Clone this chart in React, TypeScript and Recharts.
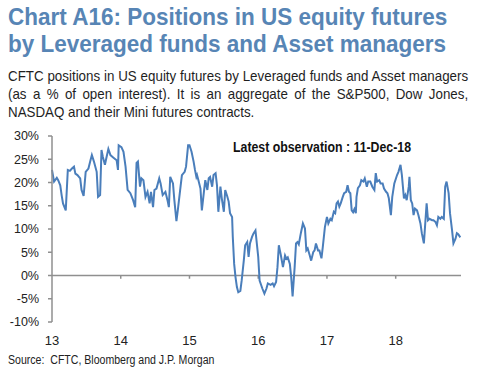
import React from 'react';
import { LineChart, Line, XAxis, YAxis, ReferenceLine } from 'recharts';

// observation time as decimal year, and net position as % of open interest
const obsTime = [
  2013.0, 2013.03, 2013.07, 2013.09, 2013.12, 2013.14, 2013.16, 2013.2, 2013.23, 2013.26,
  2013.29, 2013.32, 2013.34, 2013.37, 2013.41, 2013.43, 2013.46, 2013.49, 2013.53, 2013.56,
  2013.58, 2013.61, 2013.65, 2013.67, 2013.7, 2013.72, 2013.74, 2013.77, 2013.79, 2013.82,
  2013.85, 2013.89, 2013.94, 2013.96, 2013.97, 2014.01, 2014.04, 2014.07, 2014.1, 2014.14,
  2014.18, 2014.21, 2014.23, 2014.25, 2014.28, 2014.3, 2014.33, 2014.36, 2014.39, 2014.42,
  2014.44, 2014.47, 2014.49, 2014.52, 2014.56, 2014.58, 2014.61, 2014.65, 2014.68, 2014.7,
  2014.72, 2014.76, 2014.78, 2014.81, 2014.83, 2014.87, 2014.89, 2014.93, 2014.95, 2014.98,
  2015.0, 2015.03, 2015.06, 2015.08, 2015.1, 2015.11, 2015.13, 2015.16, 2015.18, 2015.21,
  2015.23, 2015.26, 2015.28, 2015.3, 2015.33, 2015.35, 2015.38, 2015.4, 2015.42, 2015.45,
  2015.47, 2015.5, 2015.52, 2015.55, 2015.57, 2015.59, 2015.62, 2015.63, 2015.65, 2015.67,
  2015.69, 2015.71, 2015.74, 2015.76, 2015.79, 2015.81, 2015.84, 2015.86, 2015.88, 2015.91,
  2015.93, 2015.96, 2016.0, 2016.02, 2016.06, 2016.09, 2016.12, 2016.14, 2016.18, 2016.21,
  2016.23, 2016.26, 2016.28, 2016.3, 2016.33, 2016.36, 2016.39, 2016.41, 2016.43, 2016.46,
  2016.48, 2016.5, 2016.53, 2016.55, 2016.57, 2016.59, 2016.62, 2016.65, 2016.68, 2016.7,
  2016.72, 2016.75, 2016.77, 2016.8, 2016.82, 2016.84, 2016.87, 2016.89, 2016.92, 2016.94,
  2016.97, 2017.0, 2017.02, 2017.05, 2017.07, 2017.1, 2017.12, 2017.14, 2017.16, 2017.18,
  2017.2, 2017.23, 2017.25, 2017.28, 2017.3, 2017.32, 2017.34, 2017.36, 2017.38, 2017.4,
  2017.42, 2017.43, 2017.45, 2017.48, 2017.5, 2017.53, 2017.55, 2017.58, 2017.6, 2017.63,
  2017.66, 2017.69, 2017.71, 2017.73, 2017.76, 2017.78, 2017.81, 2017.83, 2017.86, 2017.88,
  2017.9, 2017.93, 2017.95, 2017.98, 2018.02, 2018.04, 2018.07, 2018.09, 2018.12, 2018.14,
  2018.16, 2018.19, 2018.2, 2018.22, 2018.24, 2018.26, 2018.28, 2018.31, 2018.33, 2018.36,
  2018.38, 2018.41, 2018.43, 2018.45, 2018.47, 2018.49, 2018.53, 2018.55, 2018.58, 2018.6,
  2018.62, 2018.65, 2018.67, 2018.7, 2018.72, 2018.74, 2018.77, 2018.79, 2018.82, 2018.84,
  2018.87, 2018.89, 2018.91, 2018.94,
];

const netPct = [
  22.7, 20.2, 21.0, 20.5, 19.4, 17.3, 15.5, 14.0, 22.7, 22.5,
  23.0, 23.4, 21.9, 21.6, 20.9, 18.4, 17.1, 22.3, 23.0, 24.8,
  25.9, 24.5, 22.3, 16.9, 17.3, 27.0, 25.5, 23.8, 25.2, 27.2,
  25.9, 25.4, 24.8, 22.7, 28.0, 27.6, 26.6, 23.4, 18.4, 17.7,
  16.2, 14.7, 24.2, 24.5, 19.1, 20.9, 20.5, 16.9, 18.0, 15.5,
  18.0, 14.7, 18.4, 18.7, 20.9, 19.8, 17.3, 18.0, 16.2, 14.7,
  21.2, 19.8, 16.2, 11.7, 14.0, 19.1, 21.6, 22.3, 23.4, 28.0,
  28.0, 26.6, 24.5, 22.7, 21.2, 21.6, 20.5, 18.7, 14.0, 18.0,
  20.5, 18.4, 20.9, 21.2, 19.1, 21.6, 22.0, 19.4, 13.7, 19.1,
  16.6, 13.7, 18.4, 17.0, 15.9, 13.4, 12.6, 8.3, 2.5, -0.4,
  -2.5, -3.6, -3.3, -1.0, 3.2, 6.5, 7.2, 4.0, 6.9, 8.3,
  9.0, 9.7, 4.0, -1.1, -2.8, -3.9, -2.8, -1.7, -2.0, -1.7,
  -2.3, -1.4, 1.8, 6.5, 4.3, 1.8, 4.3, 3.6, 3.9, 2.5,
  -0.4, -4.5, 1.8, 6.9, 7.2, 6.7, 9.1, 11.2, 10.1, 5.4,
  5.8, 4.3, 3.2, 5.0, 5.4, 6.9, 5.4, 5.4, 3.7, 6.2,
  10.4, 12.6, 11.2, 12.2, 11.9, 13.7, 13.4, 15.5, 15.9, 14.8,
  15.5, 16.9, 17.7, 18.0, 19.4, 18.0, 17.7, 14.0, 13.6, 14.3,
  13.4, 16.9, 18.8, 19.4, 20.5, 20.2, 20.9, 19.1, 20.2, 20.2,
  19.1, 18.4, 22.0, 20.2, 20.5, 19.8, 19.8, 18.7, 18.0, 17.7,
  16.6, 13.0, 16.9, 19.8, 21.6, 22.3, 23.8, 21.6, 16.6, 17.3,
  16.2, 19.1, 21.2, 16.2, 15.5, 13.0, 14.4, 14.0, 13.0, 11.2,
  9.1, 6.9, 11.2, 15.5, 11.9, 12.2, 11.9, 11.9, 11.5, 10.8,
  12.6, 12.2, 12.6, 12.2, 19.1, 20.2, 17.7, 13.4, 9.7, 6.9,
  7.9, 9.1, 8.9, 8.2,
];

const yearTicks = [2013, 2014, 2015, 2016, 2017, 2018];
const pctTicks = [-10, -5, 0, 5, 10, 15, 20, 25, 30];

const data = obsTime.map((t, i) => ({ t, v: netPct[i] }));

const axisGrey = '#8f8f8f';
const lineBlue = '#4a7ebb';
const font = '"Liberation Sans", Arial, sans-serif';

const App = () => {
  return (
    <div
      style={{
        position: 'absolute',
        left: 0,
        top: 0,
        width: 478,
        height: 373,
        background: '#fff',
        fontFamily: font,
        overflow: 'hidden',
      }}
    >
      <div
        style={{
          position: 'absolute',
          left: 8,
          top: 4,
          fontSize: 23.7,
          lineHeight: '26.6px',
          fontWeight: 'bold',
          color: '#5785b5',
          whiteSpace: 'nowrap',
          transform: 'scaleX(0.95)',
          transformOrigin: 'left top',
        }}
      >
        <div>Chart A16: Positions in US equity futures</div>
        <div>by Leveraged funds and Asset managers</div>
      </div>

      <div
        style={{
          position: 'absolute',
          left: 8,
          top: 66.5,
          width: 517,
          fontSize: 15,
          lineHeight: '18.3px',
          color: '#1e1e1e',
          transform: 'scaleX(0.89)',
          transformOrigin: 'left top',
        }}
      >
        <div style={{ textAlign: 'justify', textAlignLast: 'justify' }}>
          CFTC positions in US equity futures by Leveraged funds and Asset managers
        </div>
        <div style={{ textAlign: 'justify', textAlignLast: 'justify' }}>
          (as a % of open interest). It is an aggregate of the S&amp;P500, Dow Jones,
        </div>
        <div>NASDAQ and their Mini futures contracts.</div>
      </div>

      <div style={{ position: 'absolute', left: 0, top: 125 }}>
        <LineChart
          width={478}
          height={225}
          data={data}
          margin={{ top: 11, right: 17, left: 0, bottom: 8 }}
        >
          <XAxis
            dataKey="t"
            type="number"
            domain={[2013, 2018.95]}
            ticks={yearTicks}
            tickFormatter={(y) => String(y).slice(2)}
            axisLine={false}
            tickLine={false}
            tickSize={6}
            tickMargin={8}
            height={20}
            interval={0}
            tick={{ fill: '#222', fontSize: 13, fontFamily: font }}
          />
          <YAxis
            type="number"
            domain={[-10, 30]}
            ticks={pctTicks}
            interval={0}
            width={52}
            tickFormatter={(v) => `${v}%`}
            axisLine={{ stroke: axisGrey, strokeWidth: 1.5 }}
            tickLine={{ stroke: axisGrey, strokeWidth: 1.5 }}
            tickSize={4}
            tickMargin={9}
            tick={{ fill: '#222', fontSize: 12.5, fontFamily: font }}
          />
          <ReferenceLine y={0} stroke={axisGrey} strokeWidth={1.5} />
          {yearTicks.slice(1).map((yr) => (
            <ReferenceLine
              key={yr}
              segment={[
                { x: yr, y: 0 },
                { x: yr, y: -0.7 },
              ]}
              stroke={axisGrey}
              strokeWidth={1.5}
            />
          ))}
          <Line
            type="linear"
            dataKey="v"
            stroke={lineBlue}
            strokeWidth={2}
            dot={false}
            isAnimationActive={false}
          />
        </LineChart>
      </div>

      <div
        style={{
          position: 'absolute',
          left: 233,
          top: 139,
          fontSize: 14,
          fontWeight: 'bold',
          color: '#111',
          whiteSpace: 'nowrap',
          transform: 'scaleX(0.88)',
          transformOrigin: 'left top',
        }}
      >
        Latest observation : 11-Dec-18
      </div>

      <div
        style={{
          position: 'absolute',
          left: 8,
          top: 353,
          fontSize: 12,
          color: '#222',
          whiteSpace: 'nowrap',
          transform: 'scaleX(0.88)',
          transformOrigin: 'left top',
        }}
      >
        Source:&nbsp; CFTC, Bloomberg and J.P. Morgan
      </div>
    </div>
  );
};

export default App;
